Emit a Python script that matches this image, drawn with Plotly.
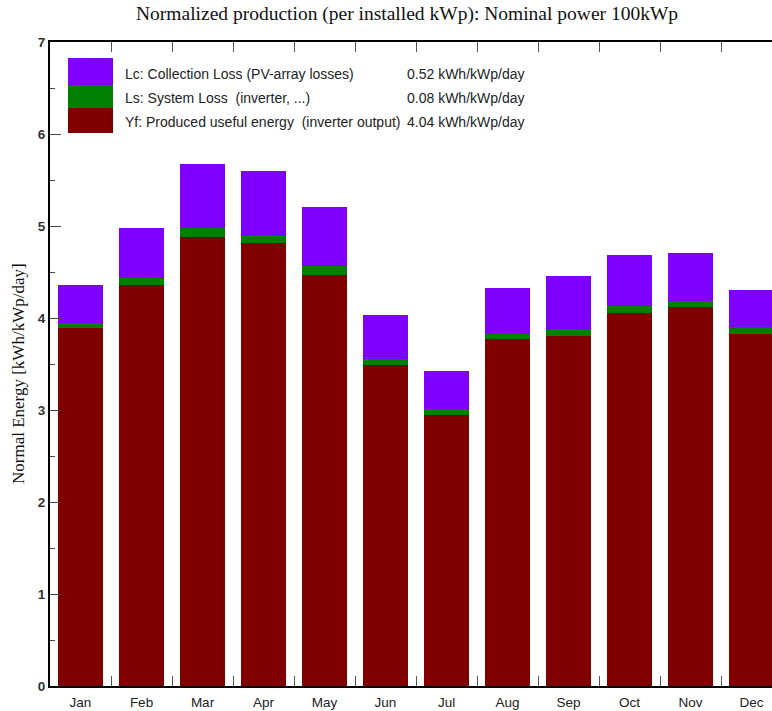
import plotly.graph_objects as go

# Monthly normalized production, kWh/kWp/day
months = ["Jan", "Feb", "Mar", "Apr", "May", "Jun",
          "Jul", "Aug", "Sep", "Oct", "Nov", "Dec"]
yf_produced = [3.89, 4.36, 4.88, 4.81, 4.47, 3.49, 2.95, 3.77, 3.80, 4.05, 4.12, 3.83]
ls_system_loss = [0.06, 0.08, 0.10, 0.09, 0.09, 0.06, 0.06, 0.06, 0.08, 0.08, 0.07, 0.07]
lc_collection_loss = [0.41, 0.54, 0.69, 0.70, 0.65, 0.48, 0.41, 0.50, 0.58, 0.56, 0.52, 0.40]

# Legend rows (top to bottom) with yearly averages
legend_labels = ["Lc: Collection Loss (PV-array losses)",
                 "Ls: System Loss  (inverter, ...)",
                 "Yf: Produced useful energy  (inverter output)"]
legend_values = [0.52, 0.08, 4.04]
legend_unit = "kWh/kWp/day"

C_LC = "#8000FF"
C_LS = "#008000"
C_YF = "#800000"

W, H = 772, 711
ML, MR, MT, MB = 50, 0, 42, 25
PW, PH = W - ML - MR, H - MT - MB


def px_x(px):
    return (px - ML) / PW


def px_y(py):
    return (H - MB - py) / PH


fig = go.Figure()
for name, vals, col in [("Yf", yf_produced, C_YF),
                        ("Ls", ls_system_loss, C_LS),
                        ("Lc", lc_collection_loss, C_LC)]:
    fig.add_trace(go.Bar(x=months, y=vals, name=name, marker_color=col,
                         marker_line_width=0, showlegend=False))

fig.update_layout(
    width=W, height=H,
    margin=dict(l=ML, r=MR, t=MT, b=MB),
    barmode="stack", bargap=0.26,
    plot_bgcolor="white", paper_bgcolor="white",
    font=dict(family="Liberation Sans", color="#222"),
)

fig.update_xaxes(
    type="category", range=[-0.5, 11.336],
    showline=True, linecolor="black", linewidth=2, mirror="ticks",
    ticks="inside", tickson="boundaries", ticklen=10, tickcolor="#555", tickwidth=1,
    tickfont=dict(size=13.5, color="#222"), ticklabelstandoff=3,
    showgrid=False, zeroline=False,
)
fig.update_yaxes(
    range=[0, 7], dtick=1,
    showline=True, linecolor="black", linewidth=2,
    ticks="inside", ticklen=11, tickcolor="#444", tickwidth=1,
    minor=dict(dtick=0.5, ticks="inside", ticklen=5, tickcolor="#444", showgrid=False),
    tickfont=dict(size=13.5, color="#333", weight="bold"),
    showgrid=False, zeroline=False,
)

# Title and y-axis caption in serif type
fig.add_annotation(text="Normalized production (per installed kWp): Nominal power 100kWp",
                   xref="paper", yref="paper", x=px_x(407), y=px_y(14),
                   showarrow=False, xanchor="center", yanchor="middle",
                   font=dict(family="Liberation Serif", size=19.5, color="#111"))
fig.add_annotation(text="Normal Energy [kWh/kWp/day]",
                   xref="paper", yref="paper", x=px_x(18), y=px_y(374),
                   showarrow=False, textangle=-90, xanchor="center", yanchor="middle",
                   font=dict(family="Liberation Serif", size=17, color="#111"))

# Legend block: stacked colour patches plus label and yearly value columns
patch_rows = [(58, 85, C_LC), (85, 108, C_LS), (108, 133, C_YF)]
for y0, y1, col in patch_rows:
    fig.add_shape(type="rect", xref="paper", yref="paper",
                  x0=px_x(68), x1=px_x(113), y0=px_y(y1), y1=px_y(y0),
                  fillcolor=col, line_width=0)
for row_y, label, val in zip([74, 98, 122], legend_labels, legend_values):
    fig.add_annotation(text=label, xref="paper", yref="paper",
                       x=px_x(123), y=px_y(row_y), showarrow=False,
                       xanchor="left", yanchor="middle",
                       font=dict(size=14, color="#222"))
    fig.add_annotation(text=f"{val:.2f} {legend_unit}", xref="paper", yref="paper",
                       x=px_x(405), y=px_y(row_y), showarrow=False,
                       xanchor="left", yanchor="middle",
                       font=dict(size=14, color="#222"))

fig.write_html("out.html")
